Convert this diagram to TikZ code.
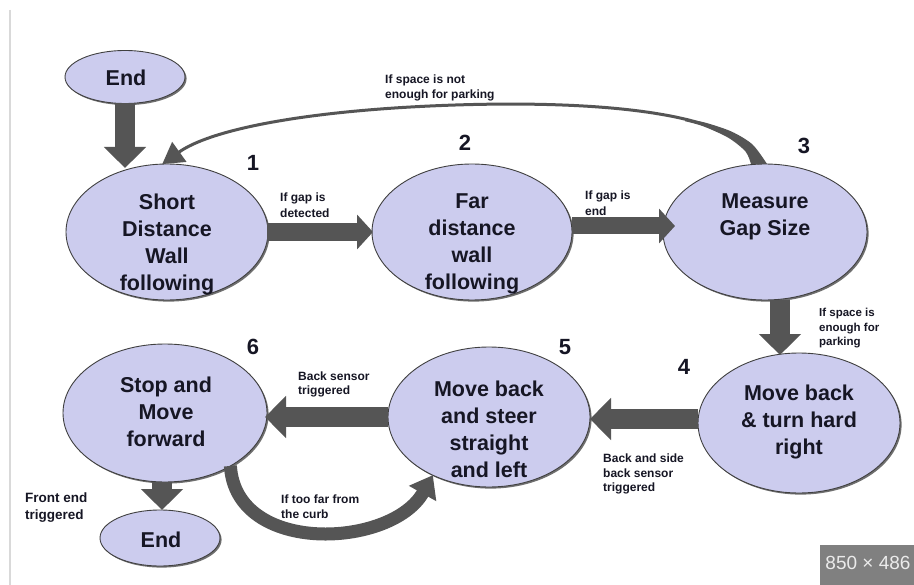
\documentclass[tikz,border=0pt]{standalone}
\usepackage{fontspec}
\setmainfont{Liberation Sans}
\usetikzlibrary{shapes.geometric,arrows.meta,shadows}
\definecolor{ellfill}{RGB}{204,204,238}
\definecolor{arr}{RGB}{85,85,85}
\definecolor{txt}{RGB}{22,22,36}
\definecolor{badgegray}{RGB}{128,128,128}
\begin{document}
\begin{tikzpicture}[x=1bp,y=-1bp,
  state/.style={ellipse, fill=ellfill, draw=black!75, line width=0.9bp, inner sep=0, outer sep=0,
    drop shadow={shadow xshift=1.6bp, shadow yshift=-1.6bp, fill=black!70, opacity=0.8}},
  big/.style={font=\fontsize{21.5bp}{27bp}\selectfont\bfseries, text=txt, align=center, inner sep=0},
  small/.style={font=\fontsize{12bp}{15bp}\selectfont\bfseries, text=txt, align=left, inner sep=0, anchor=west},
  num/.style={font=\fontsize{22bp}{24bp}\selectfont\bfseries, text=txt, inner sep=0},
  blk/.style={draw=arr, line width=20bp, -{Triangle[length=21bp 0 0, width=41bp 0 0]}},
  blks/.style={draw=arr, line width=17bp, -{Triangle[length=16bp 0 0, width=34bp 0 0]}},
  curvearr/.style={draw=arr}
]
\useasboundingbox (0,0) rectangle (914,585);
\fill[white] (0,0) rectangle (914,585);
\draw[draw=black!15, line width=2bp] (10,10) -- (10,585);

% states
\node[state, minimum width=120bp, minimum height=53bp] (e1) at (125,77) {};
\node[state, minimum width=202bp, minimum height=136bp] (n1) at (167,232) {};
\node[state, minimum width=200bp, minimum height=136bp] (n2) at (472,232) {};
\node[state, minimum width=204bp, minimum height=136bp] (n3) at (765,232) {};
\node[state, minimum width=202bp, minimum height=140bp] (n4) at (799,423) {};
\node[state, minimum width=202bp, minimum height=140bp] (n5) at (489,417) {};
\node[state, minimum width=204bp, minimum height=138bp] (n6) at (165,413) {};
\node[state, minimum width=120bp, minimum height=56bp] (e2) at (160,538) {};

% state texts
\node[big] (te1) at (126,78) {End};
\node[big] (tn1) at (167,244) {Short\\Distance\\Wall\\following};
\node[big] (tn2) at (472,244) {Far\\distance\\wall\\following};
\node[big] (tn3) at (765,217) {Measure\\Gap Size};
\node[big] (tn4) at (799,422) {Move back\\\& turn hard\\right};
\node[big] (tn5) at (489,429) {Move back\\and steer\\straight\\and left};
\node[big] (tn6) at (166,412) {Stop and\\Move\\forward};
\node[big] (te2) at (161,540) {End};

% numbers
\node[num] (k1) at (253,163) {1};
\node[num] (k2) at (465,143) {2};
\node[num] (k3) at (804,146) {3};
\node[num] (k4) at (684,367) {4};
\node[num] (k5) at (565,347) {5};
\node[num] (k6) at (253,347) {6};

% straight block arrows
\draw[blk, shorten >=-4bp] (e1.south) -- (e1.south |- n1.north);
\draw[blks, shorten <=-1bp, shorten >=-1bp] (n1.east) -- (n2.west);
\draw[blks, shorten >=-12bp] ([yshift=6bp]n2.east) -- ([yshift=6bp]n3.west);
\draw[blk, shorten >=-2bp] ([xshift=15bp]n3.south) -- ([xshift=15bp]n3.south |- n4.north);
\draw[blk] ([yshift=4bp]n4.west) -- ([yshift=4bp]n4.west -| n5.east);
\draw[blk, shorten >=-2bp] (n5.west) -- (n5.west -| n6.east);
\draw[blk] ([xshift=-3bp]n6.south) -- ([xshift=-3bp]n6.south |- e2.north);

% curved arrows
\fill[arr] plot[smooth] coordinates {(767,164) (752.5,144.5) (731.6,131.6) (704.7,122.5) (685,119.2)}
  -- plot[smooth] coordinates {(685,121.2) (703.3,126.3) (728.4,137.8) (745.5,151.5) (751,164)} -- cycle;
\draw[curvearr, line width=3bp, -{Triangle[length=21bp 0 0, width=24bp 0 0]}]
  (n3.95) .. controls (740,105) and (560,100) .. (430,106) .. controls (300,112) and (210,130) .. (n1.94);
\draw[curvearr, line width=13bp, -{Triangle[length=21bp 0 0, width=30bp 0 0]}]
  (n6.-39) .. controls (236,556) and (392,548) .. (n5.226);

% labels
\node[small] (l1) at (385,87.5) {If space is not\\enough for parking};
\node[small, font=\fontsize{12bp}{16bp}\selectfont\bfseries] (l2) at (280,205) {If gap is\\detected};
\node[small, font=\fontsize{12bp}{16bp}\selectfont\bfseries] (l3) at (585,203.5) {If gap is\\end};
\node[small, font=\fontsize{11.5bp}{14.5bp}\selectfont\bfseries] (l4) at (819,328.5) {If space is\\enough for\\parking};
\node[small, font=\fontsize{12bp}{14.5bp}\selectfont\bfseries] (l5) at (603,474) {Back and side\\back sensor\\triggered};
\node[small, font=\fontsize{12bp}{14bp}\selectfont\bfseries] (l6) at (298,384) {Back sensor\\triggered};
\node[small, font=\fontsize{13.5bp}{17bp}\selectfont\bfseries] (l7) at (25,508) {Front end\\triggered};
\node[small] (l8) at (281,507) {If too far from\\the curb};

% badge
\fill[badgegray] (820,545) rectangle (914,585);
\node[font=\fontsize{19bp}{20bp}\selectfont, text=black!8, inner sep=0] (badge) at (868,563) {850 × 486};
\end{tikzpicture}
\end{document}
